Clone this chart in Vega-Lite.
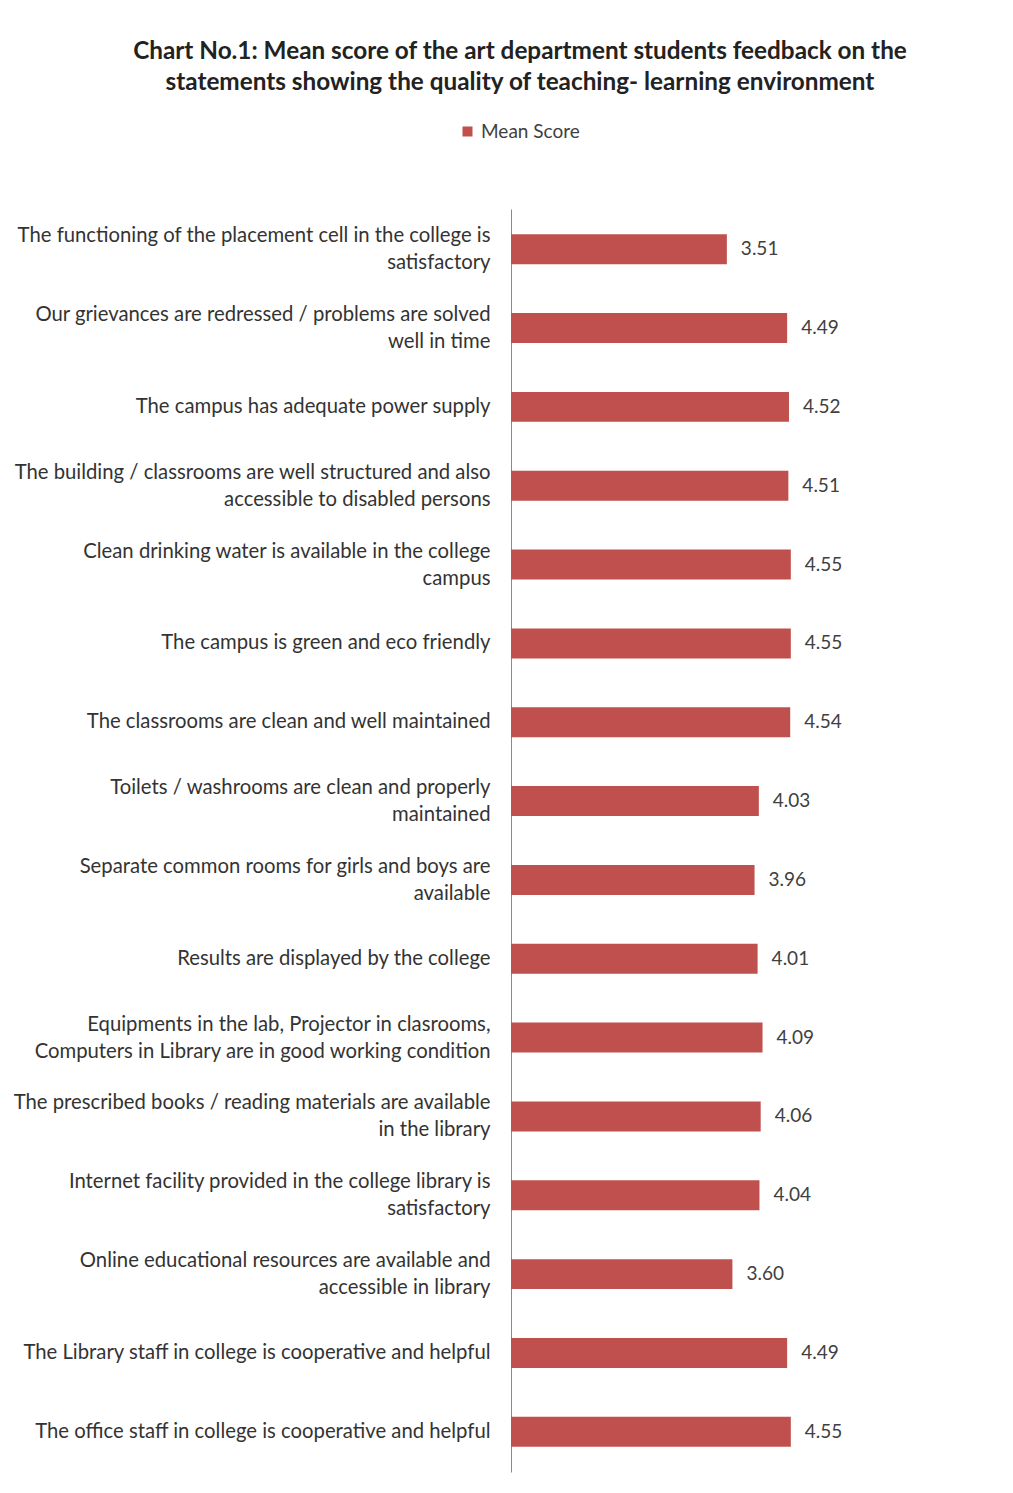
{
  "$schema": "https://vega.github.io/schema/vega-lite/v6.json",
  "autosize": "none",
  "width": 492,
  "height": 1263,
  "padding": {"left": 511, "top": 209, "right": 10, "bottom": 21},
  "background": "white",
  "title": {
    "text": ["Chart No.1: Mean score of the art department students feedback on the", "statements showing the quality of teaching- learning environment"],
    "font": "Lato",
    "fontSize": 24.3,
    "fontWeight": "bold",
    "color": "#222222",
    "anchor": "middle",
    "frame": "group",
    "dx": -237,
    "lineHeight": 31,
    "offset": 27
  },
  "data": {
    "values": [
      {"statement": "The functioning of the placement cell in the college is|satisfactory", "series": "Mean Score", "score": 3.51},
      {"statement": "Our grievances are redressed / problems are solved|well in time", "series": "Mean Score", "score": 4.49},
      {"statement": "The campus has adequate power supply", "series": "Mean Score", "score": 4.52},
      {"statement": "The building / classrooms are well structured and also|accessible to disabled persons", "series": "Mean Score", "score": 4.51},
      {"statement": "Clean drinking water is available in the college|campus", "series": "Mean Score", "score": 4.55},
      {"statement": "The campus is green and eco friendly", "series": "Mean Score", "score": 4.55},
      {"statement": "The classrooms are clean and well maintained", "series": "Mean Score", "score": 4.54},
      {"statement": "Toilets / washrooms are clean and properly|maintained", "series": "Mean Score", "score": 4.03},
      {"statement": "Separate common rooms for girls and boys are|available", "series": "Mean Score", "score": 3.96},
      {"statement": "Results are displayed  by the college", "series": "Mean Score", "score": 4.01},
      {"statement": "Equipments  in the lab, Projector in clasrooms,|Computers in Library   are in good working condition", "series": "Mean Score", "score": 4.09},
      {"statement": "The prescribed books / reading materials are available|in the library", "series": "Mean Score", "score": 4.06},
      {"statement": "Internet facility provided in the college library is|satisfactory", "series": "Mean Score", "score": 4.04},
      {"statement": "Online educational resources are available and|accessible in library", "series": "Mean Score", "score": 3.60},
      {"statement": "The Library staff in college is cooperative and helpful", "series": "Mean Score", "score": 4.49},
      {"statement": "The office staff in college is cooperative and helpful", "series": "Mean Score", "score": 4.55}
    ]
  },
  "encoding": {
    "y": {
      "field": "statement",
      "type": "nominal",
      "sort": null,
      "scale": {"paddingInner": 0.62, "paddingOuter": 0.32},
      "axis": {
        "title": null,
        "labelExpr": "split(datum.value, '|')",
        "labelFont": "Lato",
        "labelFontSize": 20.3,
        "labelColor": "#333333",
        "labelLineHeight": 27,
        "labelPadding": 21,
        "labelLimit": 700,
        "labelOffset": {"expr": "indexof(datum.value, '|') >= 0 ? -13 : 0"},
        "ticks": false,
        "domainColor": "#8a8a8a",
        "domainWidth": 1,
        "grid": false
      }
    },
    "x": {
      "field": "score",
      "type": "quantitative",
      "scale": {"domain": [0, 8]},
      "axis": null
    }
  },
  "layer": [
    {
      "mark": {"type": "bar", "color": "#C0504D"},
      "encoding": {
        "color": {
          "field": "series",
          "type": "nominal",
          "scale": {"range": ["#C0504D"]},
          "legend": {
            "title": null,
            "orient": "none",
            "legendX": -53,
            "legendY": -87,
            "symbolType": "square",
            "symbolSize": 100,
            "symbolStrokeWidth": 0,
            "labelFont": "Lato",
            "labelFontSize": 19,
            "labelColor": "#404040",
            "labelOffset": 4
          }
        }
      }
    },
    {
      "mark": {"type": "text", "align": "left", "dx": 14, "font": "Lato", "fontSize": 19, "color": "#404040"},
      "encoding": {
        "text": {"field": "score", "type": "quantitative", "format": ".2f"}
      }
    }
  ],
  "config": {
    "view": {"stroke": null}
  }
}
